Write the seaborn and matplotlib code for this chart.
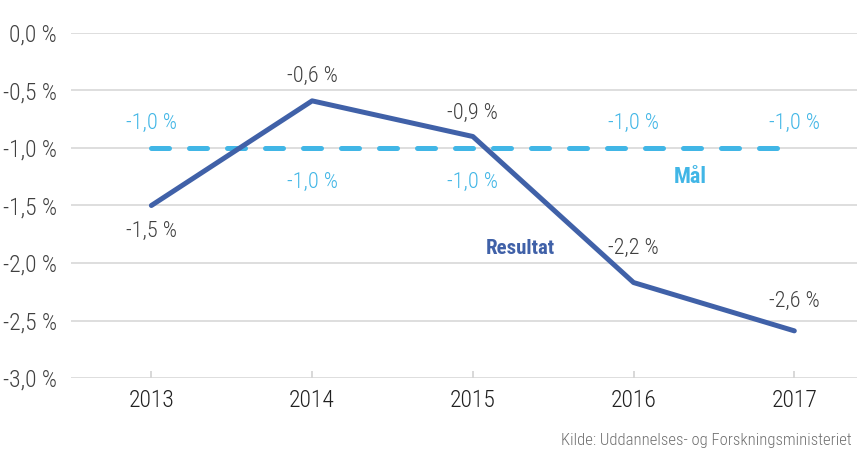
import pandas as pd
import seaborn as sns
import matplotlib.pyplot as plt

# ------------------- DATA -------------------

years = ["2013", "2014", "2015", "2016", "2017"]
resultat = [-1.5, -0.59, -0.9, -2.17, -2.59]
maal = [-1.0, -1.0, -1.0, -1.0, -1.0]
y_ticks = [0.0, -0.5, -1.0, -1.5, -2.0, -2.5, -3.0]

# vertical label offsets in points (negative = below the point)
res_off = [-19, 17.5, 16.5, 24.5, 21.5]
maal_off = [18, -25, -25, 18, 18]

df = pd.DataFrame({"year": years, "Resultat": resultat, "Mål": maal})
df["x"] = range(len(years))

# ------------------- STYLE -------------------

sns.set_theme(style="white")
plt.rcParams["font.family"] = ["Roboto Condensed", "Liberation Sans Narrow",
                               "Liberation Sans", "DejaVu Sans"]

c_res = "#4061A8"
c_maal = "#41B6E6"
c_text = "#404040"

fig = plt.figure(figsize=(8.59, 4.5), dpi=100)
ax = fig.add_axes([71 / 859, 1 - 378 / 450, (857 - 71) / 859, (378 - 33) / 450])

for y in y_ticks:
    ax.axhline(y, color="#D4D4D4", lw=1.1, zorder=0)

sns.lineplot(data=df, x="x", y="Mål", ax=ax, color=c_maal, lw=3.6, zorder=2)
ln = ax.lines[-1]
ln.set_linestyle((0, (3.6, 4.0)))
ln.set_dash_capstyle("round")
sns.lineplot(data=df, x="x", y="Resultat", ax=ax, color=c_res, lw=3.6,
             solid_capstyle="round", zorder=3)

# ------------------- LABELS -------------------

for i, (v, o) in enumerate(zip(resultat, res_off)):
    ax.annotate(f"{v:.1f} %".replace(".", ","), (i, v), xytext=(0, o),
                textcoords="offset points", ha="center", va="center",
                fontsize=16, fontweight="light", color=c_text)

for i, (v, o) in enumerate(zip(maal, maal_off)):
    ax.annotate(f"{v:.1f} %".replace(".", ","), (i, v), xytext=(0, o),
                textcoords="offset points", ha="center", va="center",
                fontsize=16, fontweight="light", color=c_maal)

ax.text(3.354, -1.25, "Mål", color=c_maal, fontsize=16, fontweight="bold",
        ha="center", va="center")
ax.text(2.296, -1.87, "Resultat", color=c_res, fontsize=15, fontweight="bold",
        ha="center", va="center")

fig.text(852 / 859, 1 - 441 / 450, "Kilde: Uddannelses- og Forskningsministeriet",
         ha="right", va="center", fontsize=12, fontweight="light", color="#707070")

# ------------------- AXES -------------------

ax.set_xlim(-0.5, 4.39)
ax.set_ylim(-3.0, 0.0)
ax.set_xticks(df["x"], years)
ax.set_yticks(y_ticks, [f"{t:.1f} %".replace(".", ",") for t in y_ticks])
ax.set_xlabel("")
ax.set_ylabel("")
ax.tick_params(axis="y", length=0, labelsize=17, labelcolor=c_text, pad=10)
ax.tick_params(axis="x", length=5, direction="in", color="#D4D4D4",
               labelsize=17, labelcolor="#202020", pad=8)
for lbl in ax.get_xticklabels() + ax.get_yticklabels():
    lbl.set_fontweight("light")
ax.xaxis.set_ticks_position("bottom")
for sp in ax.spines.values():
    sp.set_visible(False)

fig.savefig("out.png", dpi=100)
